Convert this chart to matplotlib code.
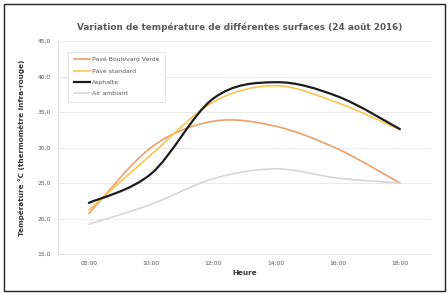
import matplotlib
matplotlib.use("Agg")
import matplotlib.pyplot as plt
from matplotlib.path import Path
from matplotlib.patches import PathPatch, Rectangle
from matplotlib.lines import Line2D
from matplotlib.ticker import FuncFormatter

heures = ["08:00", "10:00", "12:00", "14:00", "16:00", "18:00"]
pave_boulevard = [20.7, 30.0, 33.7, 33.0, 29.8, 25.0]
pave_standard = [21.2, 29.0, 36.4, 38.7, 36.3, 32.5]
asphalte = [22.2, 26.3, 36.9, 39.2, 37.2, 32.6]
air_ambiant = [19.2, 22.0, 25.6, 27.0, 25.7, 25.0]

series = [
    ("Pavé Boulevard Verde", pave_boulevard, "#eea06a", 1.2),
    ("Pavé standard", pave_standard, "#f8c650", 1.2),
    ("Asphalte", asphalte, "#1c1c1c", 1.6),
    ("Air ambiant", air_ambiant, "#d4d4d4", 1.1),
]


def smooth_path(xs, ys):
    # excel-like smoothed line: catmull-rom turned into cubic bezier segments
    pts = list(zip(xs, ys))
    verts = [pts[0]]
    codes = [Path.MOVETO]
    n = len(pts)
    for i in range(n - 1):
        p0 = pts[i - 1] if i > 0 else pts[i]
        p1 = pts[i]
        p2 = pts[i + 1]
        p3 = pts[i + 2] if i + 2 < n else pts[i + 1]
        c1 = (p1[0] + (p2[0] - p0[0]) / 6, p1[1] + (p2[1] - p0[1]) / 6)
        c2 = (p2[0] - (p3[0] - p1[0]) / 6, p2[1] - (p3[1] - p1[1]) / 6)
        verts += [c1, c2, p2]
        codes += [Path.CURVE4] * 3
    return Path(verts, codes)


fig = plt.figure(figsize=(4.48, 2.93), dpi=100)
ax = fig.add_axes([0.129, 0.133, 0.833, 0.727])

x = list(range(len(heures)))
handles = []
for label, vals, color, lw in series:
    ax.add_patch(PathPatch(smooth_path(x, vals), fill=False, edgecolor=color,
                           lw=lw, capstyle="round"))
    handles.append(Line2D([], [], color=color, lw=lw, label=label))

ax.set_xlim(-0.5, len(heures) - 0.5)
ax.set_ylim(15, 45)
ax.set_yticks(range(15, 46, 5))
ax.yaxis.set_major_formatter(FuncFormatter(lambda v, p: f"{v:.1f}".replace(".", ",")))
ax.set_xticks(x)
ax.set_xticklabels(heures)
ax.tick_params(axis="both", length=0, labelsize=4.3, colors="#555555", pad=5)
ax.grid(axis="y", color="#e6e6e6", lw=0.6)
ax.set_axisbelow(True)
for side in ["top", "right"]:
    ax.spines[side].set_visible(False)
ax.spines["left"].set_color("#d9d9d9")
ax.spines["bottom"].set_color("#d9d9d9")
ax.spines["left"].set_linewidth(0.6)
ax.spines["bottom"].set_linewidth(0.6)

ax.set_xlabel("Heure", fontsize=5.2, fontweight="bold", color="#333333", labelpad=3)
ax.set_ylabel("Température °C (thermomètre infra-rouge)", fontsize=5.2,
              fontweight="bold", color="#333333", labelpad=9)

fig.text(0.536, 0.908, "Variation de température de différentes surfaces (24 août 2016)",
         ha="center", va="center", fontsize=6.4, fontweight="bold", color="#595959")

leg = ax.legend(handles=handles, loc="upper left", bbox_to_anchor=(0.02, 0.965),
                fontsize=4.4, handlelength=2.6, handletextpad=0.3, labelspacing=1.0,
                borderpad=0.9, fancybox=False, framealpha=1)
leg.get_frame().set_edgecolor("#e0e0e0")
leg.get_frame().set_linewidth(0.6)
for t in leg.get_texts():
    t.set_color("#555555")

fig.patches.append(Rectangle((0.009, 0.007), 0.984, 0.979, transform=fig.transFigure,
                             fill=False, edgecolor="#222222", lw=1.0))

fig.savefig("out.png", dpi=100)
